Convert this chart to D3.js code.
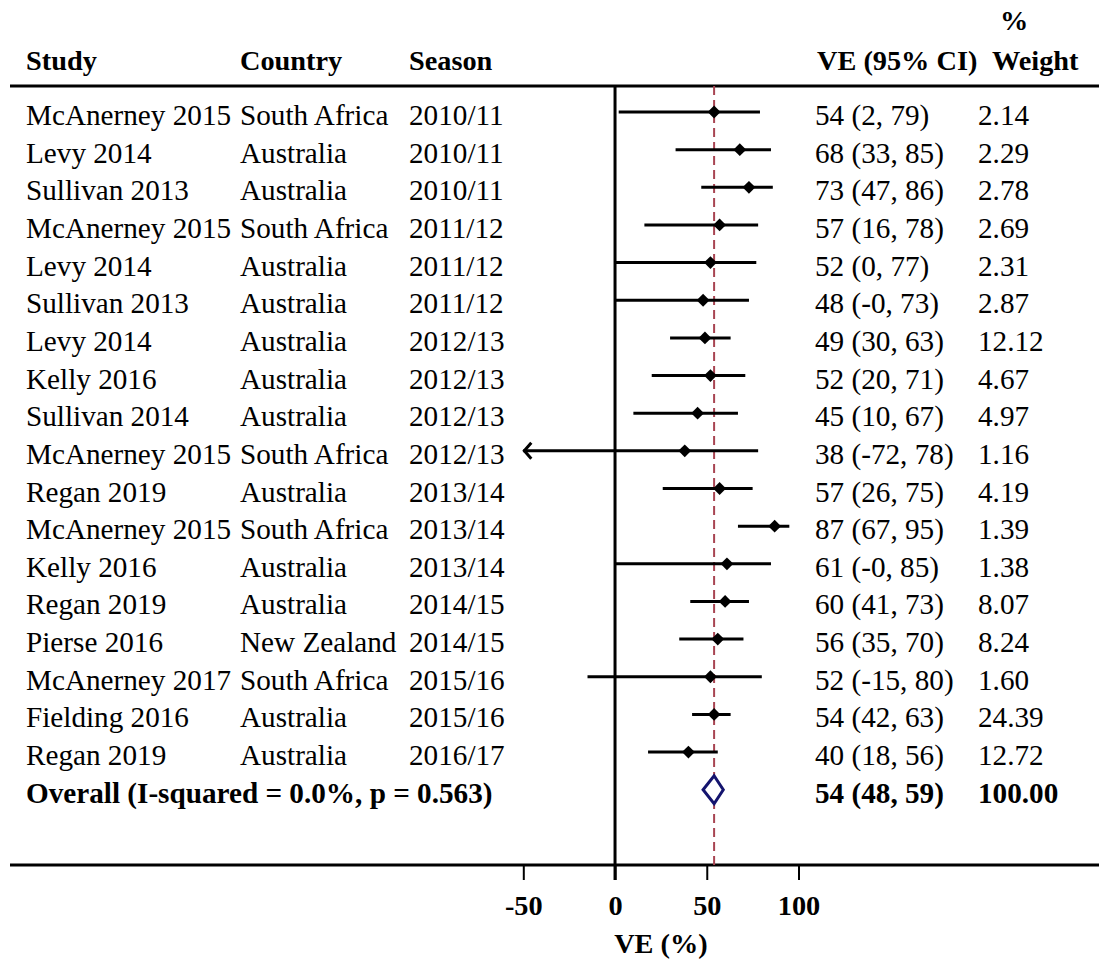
<!DOCTYPE html>
<html>
<head>
<meta charset="utf-8">
<script src="https://cdn.jsdelivr.net/npm/d3@7"></script>
<style>
  html, body { margin: 0; padding: 0; background: #fff; }
  svg { display: block; font-family: "Liberation Serif", "Times New Roman", serif; }
</style>
</head>
<body>
<svg id="chart" width="1099" height="965"></svg>
<script>
// Study rows of the meta-analysis
const studies = ["McAnerney 2015", "Levy 2014", "Sullivan 2013", "McAnerney 2015", "Levy 2014",
  "Sullivan 2013", "Levy 2014", "Kelly 2016", "Sullivan 2014", "McAnerney 2015", "Regan 2019",
  "McAnerney 2015", "Kelly 2016", "Regan 2019", "Pierse 2016", "McAnerney 2017", "Fielding 2016", "Regan 2019"];
const countries = ["South Africa", "Australia", "Australia", "South Africa", "Australia",
  "Australia", "Australia", "Australia", "Australia", "South Africa", "Australia",
  "South Africa", "Australia", "Australia", "New Zealand", "South Africa", "Australia", "Australia"];
const seasons = ["2010/11", "2010/11", "2010/11", "2011/12", "2011/12", "2011/12", "2012/13", "2012/13",
  "2012/13", "2012/13", "2013/14", "2013/14", "2013/14", "2014/15", "2014/15", "2015/16", "2015/16", "2016/17"];
const ve = [54, 68, 73, 57, 52, 48, 49, 52, 45, 38, 57, 87, 61, 60, 56, 52, 54, 40];
const ciLow = [2, 33, 47, 16, 0, -0, 30, 20, 10, -72, 26, 67, -0, 41, 35, -15, 42, 18];
const ciHigh = [79, 85, 86, 78, 77, 73, 63, 71, 67, 78, 75, 95, 85, 73, 70, 80, 63, 56];
const weights = ["2.14", "2.29", "2.78", "2.69", "2.31", "2.87", "12.12", "4.67", "4.97", "1.16",
  "4.19", "1.39", "1.38", "8.07", "8.24", "1.60", "24.39", "12.72"];

// Pooled estimate
const overallLabel = "Overall (I-squared = 0.0%, p = 0.563)";
const overallVE = 54, overallLow = 48, overallHigh = 59, overallWeight = "100.00";

const xTicks = [-50, 0, 50, 100];
const xDomain = [-50, 100];

const fmt = v => (Object.is(v, -0) ? "-0" : String(v));
const ciText = (e, l, h) => `${fmt(e)} (${fmt(l)}, ${fmt(h)})`;

const svg = d3.select("#chart");
const W = 1099;

const x = d3.scaleLinear().domain(xDomain).range([523.3, 798.5]);
const rowIdx = d3.range(studies.length + 1);
const y = d3.scalePoint().domain(rowIdx).range([112, 789.7]);

const lineTop = 86, lineBottom = 865;
const textDy = 13;
const rowFont = 29.2, headFont = 28.3;

// Column headers
const header = svg.append("g").attr("font-weight", "bold").attr("font-size", headFont).attr("fill", "#000");
header.append("text").attr("x", 26).attr("y", 70).text("Study");
header.append("text").attr("x", 240).attr("y", 70).text("Country");
header.append("text").attr("x", 409).attr("y", 70).text("Season");
header.append("text").attr("x", 817).attr("y", 70).text("VE (95% CI)");
header.append("text").attr("x", 1000).attr("y", 30).text("%");
header.append("text").attr("x", 992).attr("y", 70).text("Weight");

// Horizontal rules
svg.append("line").attr("x1", 10).attr("x2", W).attr("y1", lineTop).attr("y2", lineTop)
  .attr("stroke", "#000").attr("stroke-width", 3);
svg.append("line").attr("x1", 10).attr("x2", W).attr("y1", lineBottom).attr("y2", lineBottom)
  .attr("stroke", "#000").attr("stroke-width", 3);

// No-effect line at 0
svg.append("line").attr("x1", x(0)).attr("x2", x(0)).attr("y1", lineTop).attr("y2", lineBottom + 15)
  .attr("stroke", "#000").attr("stroke-width", 3);

// Pooled-estimate reference line
svg.append("line").attr("x1", x(overallVE)).attr("x2", x(overallVE)).attr("y1", lineTop).attr("y2", lineBottom)
  .attr("stroke", "#a84452").attr("stroke-width", 2).attr("stroke-dasharray", "9,5");

// Row labels
const rows = svg.append("g").attr("font-size", rowFont).attr("fill", "#000");
studies.forEach((s, i) => {
  const ty = y(i) + textDy;
  rows.append("text").attr("x", 26).attr("y", ty).text(s);
  rows.append("text").attr("x", 240).attr("y", ty).text(countries[i]);
  rows.append("text").attr("x", 409).attr("y", ty).text(seasons[i]);
  rows.append("text").attr("x", 815).attr("y", ty).text(ciText(ve[i], ciLow[i], ciHigh[i]));
  rows.append("text").attr("x", 978).attr("y", ty).text(weights[i]);
});

// Confidence intervals, clipped at the axis range with an arrow
const ci = svg.append("g");
studies.forEach((s, i) => {
  const lo = Math.max(ciLow[i], xDomain[0]);
  const hi = Math.min(ciHigh[i], xDomain[1]);
  const yy = y(i);
  ci.append("line").attr("x1", x(lo)).attr("x2", x(hi)).attr("y1", yy).attr("y2", yy)
    .attr("stroke", "#000").attr("stroke-width", 3);
  if (ciLow[i] < xDomain[0]) {
    const ax = x(xDomain[0]);
    ci.append("path").attr("d", `M${ax + 8},${yy - 8} L${ax + 1},${yy} L${ax + 8},${yy + 8}`)
      .attr("fill", "none").attr("stroke", "#000").attr("stroke-width", 3);
  }
  ci.append("path")
    .attr("d", d3.symbol().type(d3.symbolDiamond2).size(105)())
    .attr("transform", `translate(${x(ve[i])},${yy})`)
    .attr("fill", "#000");
});

// Overall row
const oy = y(studies.length);
const og = svg.append("g").attr("font-size", rowFont).attr("font-weight", "bold").attr("fill", "#000");
og.append("text").attr("x", 26).attr("y", oy + textDy).text(overallLabel);
og.append("text").attr("x", 815).attr("y", oy + textDy).text(ciText(overallVE, overallLow, overallHigh));
og.append("text").attr("x", 978).attr("y", oy + textDy).text(overallWeight);
svg.append("path")
  .attr("d", `M${x(overallLow)},${oy} L${x(overallVE)},${oy - 14} L${x(overallHigh)},${oy} L${x(overallVE)},${oy + 14} Z`)
  .attr("fill", "#fff").attr("stroke", "#14146e").attr("stroke-width", 3);

// X axis
const axis = svg.append("g").attr("transform", `translate(0,${lineBottom})`)
  .call(d3.axisBottom(x).tickValues(xTicks).tickSize(15).tickFormat(d => String(d)));
axis.select(".domain").remove();
axis.selectAll(".tick line").attr("stroke", "#000").attr("stroke-width", 2);
axis.selectAll(".tick text").attr("font-family", "Liberation Serif, Times New Roman, serif")
  .attr("font-size", headFont).attr("font-weight", "bold").attr("fill", "#000")
  .attr("dy", null).attr("y", 50);

svg.append("text").attr("x", x(25)).attr("y", 953).attr("text-anchor", "middle")
  .attr("font-size", headFont).attr("font-weight", "bold").text("VE (%)");
</script>
</body>
</html>
